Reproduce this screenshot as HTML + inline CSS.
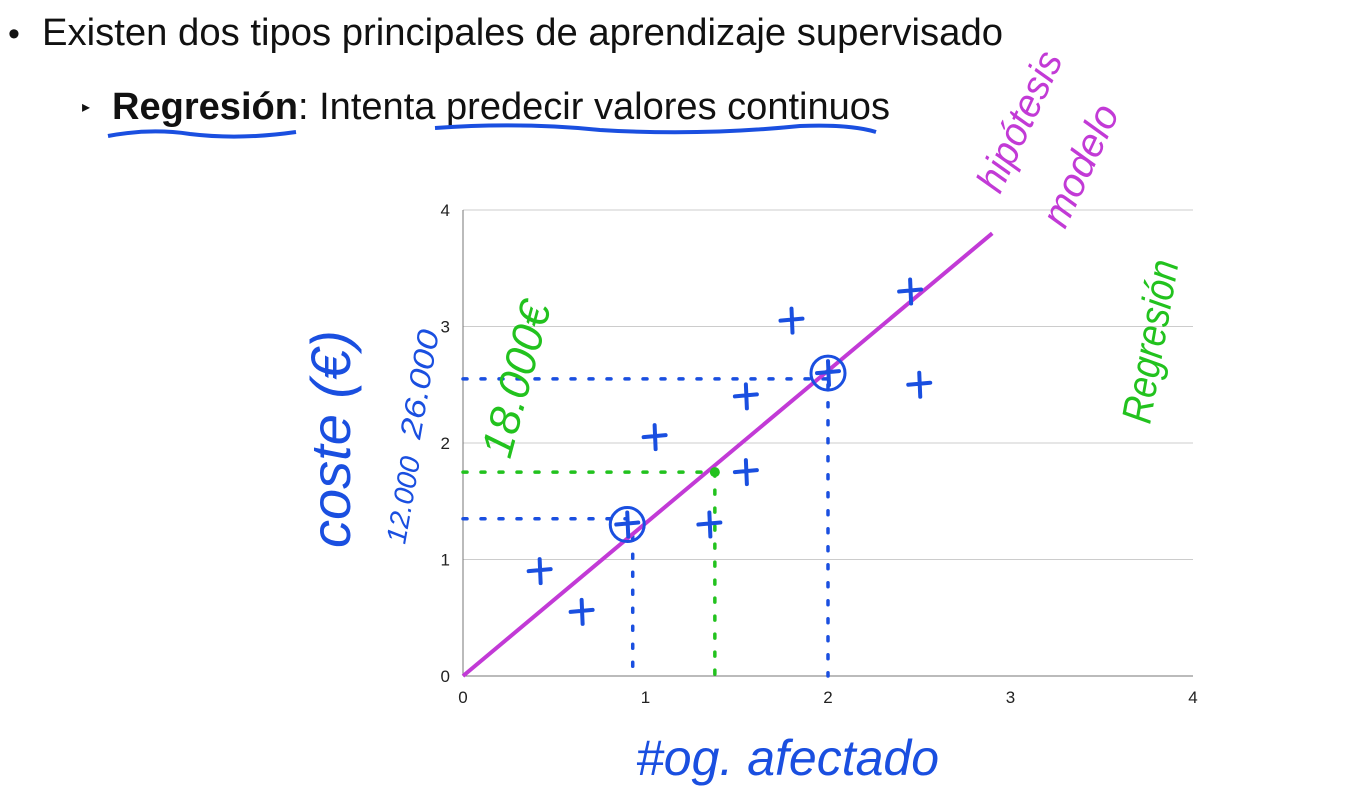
<!DOCTYPE html>
<html><head><meta charset="utf-8"><style>
body{margin:0;width:1356px;height:804px;background:#fff;overflow:hidden;font-family:"Liberation Sans",sans-serif;}
svg{position:absolute;left:0;top:0}
</style></head><body>
<svg width="1356" height="804">
<text x="8" y="45" font-size="34" fill="#111">•</text>
<text x="42" y="45" font-size="38" textLength="961" lengthAdjust="spacingAndGlyphs" fill="#111">Existen dos tipos principales de aprendizaje supervisado</text>
<text x="82" y="112" font-size="16" fill="#111">▸</text>
<text x="112" y="119" font-size="38" textLength="778" lengthAdjust="spacingAndGlyphs" fill="#111"><tspan font-weight="bold">Regresión</tspan>: Intenta predecir valores continuos</text>
<path d="M108 136 Q150 128 190 134 Q240 140 296 132" stroke="#1a4fe0" stroke-width="4" fill="none"/>
<path d="M435 128 Q520 122 600 130 Q700 136 800 126 Q850 124 876 132" stroke="#1a4fe0" stroke-width="4" fill="none"/>
<g id="chart"></g>
<g fill="#1a4fe0" font-style="italic">
<text transform="translate(350,548) rotate(-90)" font-size="56">coste (€)</text>
<text transform="translate(420,440) rotate(-80)" font-size="30" textLength="110" lengthAdjust="spacingAndGlyphs">26.000</text>
<text transform="translate(405,545) rotate(-80)" font-size="28" textLength="88" lengthAdjust="spacingAndGlyphs">12.000</text>
<text x="636" y="775" font-size="50">#og. afectado</text>
</g>
<text transform="translate(510,460) rotate(-75)" font-size="44" fill="#22c21e" font-style="italic">18.000€</text>
<text transform="translate(1150,425) rotate(-80)" font-size="42" textLength="165" lengthAdjust="spacingAndGlyphs" fill="#22c21e" font-style="italic">Regresión</text>
<text transform="translate(1000,195) rotate(-65)" font-size="40" textLength="150" lengthAdjust="spacingAndGlyphs" fill="#c23ad6" font-style="italic">hipótesis</text>
<text transform="translate(1065,230) rotate(-65)" font-size="40" textLength="130" lengthAdjust="spacingAndGlyphs" fill="#c23ad6" font-style="italic">modelo</text>
</svg>
<script>
const xTicks=[0,1,2,3,4];
const yTicks=[0,1,2,3,4];
const pointsX=[0.42,0.65,0.9,1.05,1.35,1.55,1.55,1.8,2.0,2.45,2.5];
const pointsY=[0.9,0.55,1.3,2.05,1.3,1.75,2.4,3.05,2.6,3.3,2.5];
const circledIdx=[2,8];
const lineX=[0,2.9];
const lineY=[0,3.8];
const NS="http://www.w3.org/2000/svg";
const g=document.getElementById('chart');
const X=v=>463+v*182.5, Y=v=>676-v*116.5;
function mk(t,a){const e=document.createElementNS(NS,t);for(const k in a)e.setAttribute(k,a[k]);g.appendChild(e);return e;}
yTicks.forEach(t=>{
 const l=mk('line',{x1:X(0),x2:X(4),y1:Y(t),y2:Y(t),stroke:t===0?'#777':'#ccc','stroke-width':1});
 
 
 const tx=mk('text',{x:450,y:Y(t)+6,'font-size':17,'text-anchor':'end',fill:'#222'});tx.textContent=t;
 
 
});
const ax=mk('line',{x1:X(0),x2:X(0),y1:Y(0),y2:Y(4),stroke:'#777'});


xTicks.forEach(t=>{
 const tx=mk('text',{x:X(t),y:703,'font-size':17,'text-anchor':'middle',fill:'#222'});tx.textContent=t;
 
 
});
function dotted(x1,y1,x2,y2,c,n){const l=mk('line',{x1,y1,x2,y2,stroke:c,'stroke-width':3.5,'stroke-dasharray':'4 14','stroke-linecap':'round'});}
dotted(X(0),Y(2.55),X(2.0),Y(2.55),'#1a4fe0','guide-h-26000');
dotted(X(2.0),Y(2.5),X(2.0),Y(0),'#1a4fe0','guide-v-2');
dotted(X(0),Y(1.35),X(0.9),Y(1.35),'#1a4fe0','guide-h-12000');
dotted(X(0.93),Y(1.2),X(0.93),Y(0),'#1a4fe0','guide-v-1');
dotted(X(0),Y(1.75),X(1.38),Y(1.75),'#22c21e','guide-h-18000');
dotted(X(1.38),Y(1.75),X(1.38),Y(0),'#22c21e','guide-v-green');
const rl=mk('line',{x1:X(lineX[0]),y1:Y(lineY[0]),x2:X(lineX[1]),y2:Y(lineY[1]),stroke:'#c23ad6','stroke-width':4});


pointsX.forEach((px,i)=>{
 const cx=X(px),cy=Y(pointsY[i]);
 const p=mk('path',{d:`M${cx-11} ${cy}L${cx+11} ${cy-2}M${cx} ${cy-12}L${cx+1} ${cy+12}`,stroke:'#1a4fe0','stroke-width':4,fill:'none','stroke-linecap':'round'});
 
 
 if(circledIdx.includes(i)){const c=mk('circle',{cx,cy,r:17,stroke:'#1a4fe0','stroke-width':3,fill:'none'});
 
 }
});
const gp=mk('circle',{cx:X(1.38),cy:Y(1.75),r:5,fill:'#22c21e'});


</script>
</body></html>
